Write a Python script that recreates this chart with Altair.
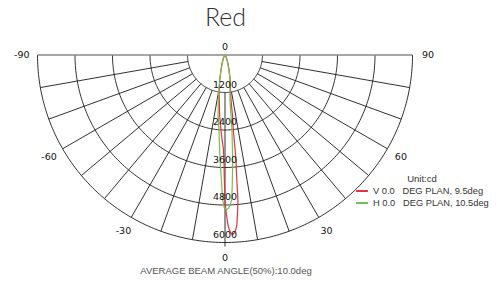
import altair as alt
import pandas as pd
import numpy as np

TITLE = "Red"
FOOTER = "AVERAGE BEAM ANGLE(50%):10.0deg"
UNIT = "Unit:cd"

RING_VALUES = [1200, 2400, 3600, 4800, 6000]
RADIAL_ANGLES = [-80, -70, -60, -50, -40, -30, -20, -10, 0, 10, 20, 30, 40, 50, 60, 70, 80]
ANGLE_LABELS = [-90, -60, -30, 0, 30, 60, 90]
VALUE_LABELS = [0, 1200, 2400, 3600, 4800, 6000]
R_MAX = 6000
LABEL_R = 6500

NB = "\u00a0"
SERIES = ["V" + NB + "0.0" + NB * 3 + "DEG PLAN, 9.5deg", "H" + NB + "0.0" + NB * 3 + "DEG PLAN, 10.5deg"]
COLORS = ["#e8323c", "#72c04f"]

# V plane (red)
V_ANGLES = [-90, -60, -40, -30, -25, -20, -15, -12, -9, -7, -5, -3, -2, -1, -0.6, -0.3, 0, 0.5, 1, 1.5,
            2, 2.5, 3, 3.5, 4, 4.5, 5.1, 5.5, 6, 6.3, 7, 7.6, 9, 12, 15, 20, 25, 30, 40, 60, 90]
V_CD = [0, 0, 20, 60, 120, 250, 500, 800, 1200, 1500, 1950, 2420, 2700, 3000, 3300, 4000, 4700, 5100, 5440, 5620,
        5720, 5750, 5700, 5610, 5450, 5100, 4660, 3860, 3370, 2420, 2000, 1450, 1100, 800, 500, 250, 120, 60, 20, 0, 0]

# H plane (green)
H_ANGLES = [-90, -60, -40, -30, -25, -20, -15, -12, -10, -8.5, -6.5, -4.6, -2.7, -1.45, -0.9, -0.3, 0.55, 1.3,
            1.9, 2.65, 3.2, 4.2, 5.3, 6.3, 8, 10, 12, 15, 20, 25, 30, 40, 60, 90]
H_CD = [0, 0, 20, 60, 120, 250, 500, 800, 1150, 1460, 1950, 2410, 3360, 4160, 4640, 4880, 4960, 4900,
        4800, 4640, 4160, 3370, 2410, 1450, 1150, 900, 750, 500, 250, 120, 60, 20, 0, 0]

curves = pd.concat([
    pd.DataFrame({"angle": V_ANGLES, "cd": V_CD, "series": SERIES[0]}),
    pd.DataFrame({"angle": H_ANGLES, "cd": H_CD, "series": SERIES[1]}),
])

arc_angles = np.arange(-90, 90.5, 1.0)
rings = pd.DataFrame([{"ring": v, "angle": a, "cd": v} for v in RING_VALUES for a in arc_angles])
radials = pd.DataFrame({"angle": RADIAL_ANGLES, "r1": RING_VALUES[0],
                        "r2": [R_MAX + (130 if a == 0 else 0) for a in RADIAL_ANGLES]})
top_line = pd.DataFrame({"angle": [-90, 90], "cd": [R_MAX, R_MAX]})
ang_labels = pd.DataFrame({"angle": ANGLE_LABELS, "cd": LABEL_R, "txt": [str(a) for a in ANGLE_LABELS]})
val_labels = pd.DataFrame({"angle": 0, "cd": VALUE_LABELS, "txt": [str(v) for v in VALUE_LABELS]})

XS = alt.Scale(domain=[-6944, 6976], nice=False, zero=False)
YS = alt.Scale(domain=[-6240, 544], nice=False, zero=False)
XAX = alt.Axis(title=FOOTER, domain=False, ticks=False, labels=False, grid=False,
               titleFont="Liberation Sans", titleFontSize=9.5, titleFontWeight="normal",
               titleColor="#555555", titlePadding=15)

def polar(ch, r="cd", px="px", py="py"):
    return ch.transform_calculate(**{
        px: f"datum.{r} * sin(datum.angle * PI / 180)",
        py: f"-datum.{r} * cos(datum.angle * PI / 180)",
    })

ring_layer = polar(alt.Chart(rings)).mark_line(color="#1a1a1a", strokeWidth=0.9).encode(
    x=alt.X("px:Q", scale=XS, axis=XAX),
    y=alt.Y("py:Q", scale=YS, axis=None),
    detail="ring:N",
    order="angle:Q",
)

radial_layer = alt.Chart(radials).transform_calculate(
    x1="datum.r1 * sin(datum.angle * PI / 180)",
    y1="-datum.r1 * cos(datum.angle * PI / 180)",
    x2="datum.r2 * sin(datum.angle * PI / 180)",
    y2="-datum.r2 * cos(datum.angle * PI / 180)",
).mark_rule(color="#1a1a1a", strokeWidth=0.9).encode(
    x=alt.X("x1:Q", scale=XS, axis=XAX),
    y=alt.Y("y1:Q", scale=YS, axis=None),
    x2="x2:Q",
    y2="y2:Q",
)

top_layer = polar(alt.Chart(top_line)).mark_line(color="#8a8a8a", strokeWidth=1.6).encode(
    x=alt.X("px:Q", scale=XS, axis=XAX),
    y=alt.Y("py:Q", scale=YS, axis=None),
    order="angle:Q",
)

curve_layer = polar(alt.Chart(curves)).mark_line(strokeWidth=1.2).encode(
    x=alt.X("px:Q", scale=XS, axis=XAX),
    y=alt.Y("py:Q", scale=YS, axis=None),
    color=alt.Color("series:N", scale=alt.Scale(domain=SERIES, range=COLORS),
                    legend=alt.Legend(orient="none", legendX=347, legendY=136,
                                      title=NB * 18 + UNIT,
                                      titleFont="Liberation Sans", titleFontSize=9.5,
                                      titleFontWeight="normal", titleColor="#333333",
                                      titleAnchor="middle", titlePadding=3,
                                      labelFont="Liberation Sans", labelFontSize=9.3,
                                      labelColor="#333333", symbolType="stroke",
                                      symbolSize=140, symbolStrokeWidth=2, labelOffset=4,
                                      clipHeight=9, rowPadding=2, padding=0)),
    order="angle:Q",
)

ang_text = polar(alt.Chart(ang_labels)).mark_text(
    font="DejaVu Sans", fontSize=9.5, color="#111111", baseline="middle", align="center"
).encode(
    x=alt.X("px:Q", scale=XS, axis=XAX),
    y=alt.Y("py:Q", scale=YS, axis=None),
    text="txt:N",
)

val_text = polar(alt.Chart(val_labels)).mark_text(
    font="DejaVu Sans", fontSize=9.5, color="#111111", baseline="middle", align="center", dy=-8
).encode(
    x=alt.X("px:Q", scale=XS, axis=XAX),
    y=alt.Y("py:Q", scale=YS, axis=None),
    text="txt:N",
)

chart = alt.layer(ring_layer, radial_layer, top_layer, curve_layer, ang_text, val_text).properties(
    width=435,
    height=212,
    title=alt.TitleParams(TITLE, font="Lato", fontSize=25, fontWeight=300,
                          color="#333333", anchor="middle", baseline="alphabetic", offset=12, dy=25),
    autosize=alt.AutoSizeParams(type="none"),
    padding={"left": 0, "top": 30, "right": 47, "bottom": 26},
).configure_view(stroke=None)

chart.save("out.html", embed_options={"renderer": "svg", "actions": False})
